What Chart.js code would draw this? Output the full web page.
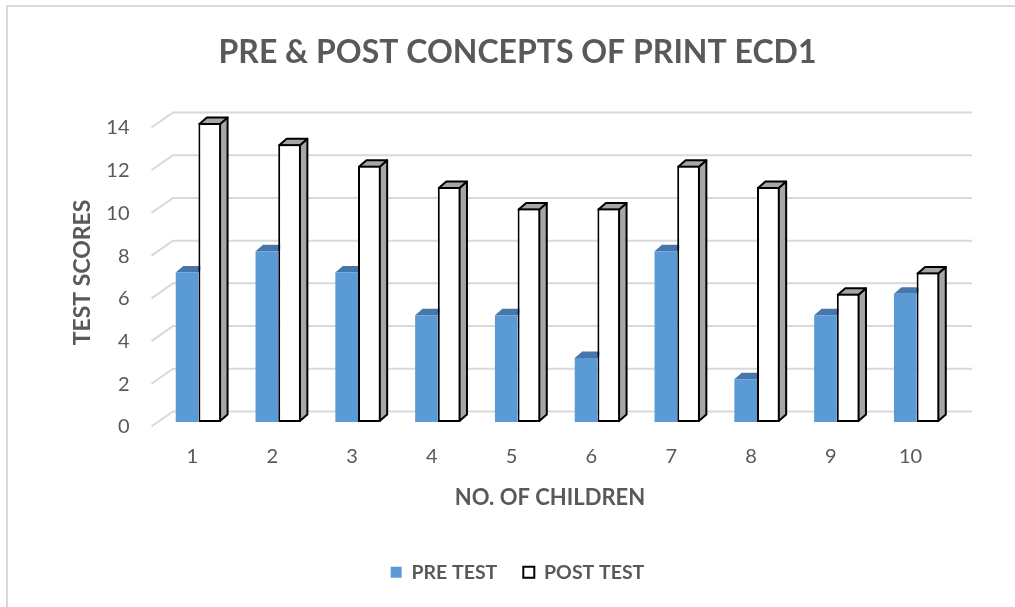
<!DOCTYPE html>
<html>
<head>
<meta charset="utf-8">
<script src="https://cdn.jsdelivr.net/npm/chart.js@4.4.1/dist/chart.umd.min.js"></script>
<style>
  html, body { margin: 0; padding: 0; background: #ffffff; }
  #wrap { position: relative; width: 1015px; height: 607px; overflow: hidden; }
  #frame { position: absolute; left: 6px; top: 5px; width: 1100px; height: 700px;
           border-top: 2px solid #d9d9d9; border-left: 2px solid #d9d9d9; }
  canvas { position: absolute; left: 0; top: 0; }
</style>
</head>
<body>
<div id="wrap">
  <div id="frame"></div>
  <canvas id="c" width="1015" height="607"></canvas>
</div>
<script>
// ---- data ----
const categories = ['1', '2', '3', '4', '5', '6', '7', '8', '9', '10'];
const preTest = [7, 8, 7, 5, 5, 3, 8, 2, 5, 6];
const postTest = [14, 13, 12, 11, 10, 10, 12, 11, 6, 7];
const seriesNames = ['PRE TEST', 'POST TEST'];
const chartTitle = 'PRE & POST CONCEPTS OF PRINT ECD1';
const xTitle = 'NO. OF CHILDREN';
const yTitle = 'TEST SCORES';

const TEXT = '#595959';
const FONT = 'Lato, "Open Sans", sans-serif';

// 3D effect plugin: back-wall grid + top/side faces of bars, x-axis title
const DEPTH_X = 7.5, DEPTH_Y = -6.5;
const threeD = {
  id: 'threeD',
  beforeDatasetsDraw(chart) {
    const ctx = chart.ctx;
    const area = chart.chartArea;
    const ys = chart.scales.y;
    ctx.save();
    // grid
    ctx.strokeStyle = '#d9d9d9';
    ctx.lineWidth = 2;
    ys.ticks.forEach(t => {
      const yf = ys.getPixelForValue(t.value);
      ctx.beginPath();
      ctx.moveTo(area.left - 7, yf + 4.5);
      ctx.lineTo(area.left + 14.5, yf - 10.5);
      ctx.lineTo(area.right + 15.5, yf - 10.5);
      ctx.stroke();
    });
    // bar faces
    chart.data.datasets.forEach((ds, di) => {
      const meta = chart.getDatasetMeta(di);
      meta.data.forEach(el => {
        const p = el.getProps(['x', 'y', 'width', 'base'], true);
        const L = p.x - p.width / 2, R = p.x + p.width / 2;
        const top = Math.min(p.y, p.base), bot = Math.max(p.y, p.base);
        if (di === 0) {
          ctx.fillStyle = '#4676aa';
          ctx.beginPath();
          ctx.moveTo(L, top);
          ctx.lineTo(L + DEPTH_X, top + DEPTH_Y);
          ctx.lineTo(R + DEPTH_X, top + DEPTH_Y);
          ctx.lineTo(R, top);
          ctx.closePath();
          ctx.fill();
        } else {
          const l = L + 1, r = R - 1, t = top + 1, b = bot - 1;
          ctx.fillStyle = '#a6a6a6';
          ctx.strokeStyle = '#000000';
          ctx.lineWidth = 2;
          ctx.lineJoin = 'round';
          ctx.beginPath();
          ctx.moveTo(r, t);
          ctx.lineTo(r + DEPTH_X, t + DEPTH_Y);
          ctx.lineTo(r + DEPTH_X, b + DEPTH_Y);
          ctx.lineTo(r, b);
          ctx.closePath();
          ctx.fill();
          ctx.stroke();
          ctx.beginPath();
          ctx.moveTo(l, t);
          ctx.lineTo(l + DEPTH_X, t + DEPTH_Y);
          ctx.lineTo(r + DEPTH_X, t + DEPTH_Y);
          ctx.lineTo(r, t);
          ctx.closePath();
          ctx.fill();
          ctx.stroke();
        }
      });
    });
    ctx.restore();
  },
  afterDraw(chart) {
    // x-axis title, centred on the 3D plot (slightly left of the front plane centre)
    const ctx = chart.ctx;
    const area = chart.chartArea;
    ctx.save();
    ctx.fillStyle = TEXT;
    ctx.font = 'bold 22px ' + FONT;
    ctx.textAlign = 'center';
    ctx.textBaseline = 'middle';
    ctx.fillText(xTitle, (area.left + area.right) / 2 - 7.5, area.bottom + 75.5);
    ctx.restore();
  }
};

const AREA_TOP = 123, AREA_BOTTOM = 422, AREA_LEFT = 158.5, AREA_RIGHT = 956.5;
const PAD_LEFT = 20, PAD_BOTTOM = 15;
const TITLE_SIZE = 32, TITLE_PT = 33.8;

new Chart(document.getElementById('c'), {
  type: 'bar',
  data: {
    labels: categories,
    datasets: [
      {
        label: seriesNames[0],
        data: preTest,
        backgroundColor: '#5b9bd5',
        borderWidth: 0,
        categoryPercentage: 0.568,
        barPercentage: 1.0
      },
      {
        label: seriesNames[1],
        data: postTest,
        backgroundColor: '#ffffff',
        borderColor: '#000000',
        borderWidth: 2,
        borderSkipped: false,
        categoryPercentage: 0.568,
        barPercentage: 1.0
      }
    ]
  },
  options: {
    responsive: false,
    animation: false,
    devicePixelRatio: 1,
    layout: { padding: { left: PAD_LEFT, right: 0, top: 0, bottom: PAD_BOTTOM } },
    plugins: {
      tooltip: { enabled: false },
      title: {
        display: true,
        text: chartTitle,
        color: TEXT,
        font: { family: FONT, size: TITLE_SIZE, weight: 'bold', lineHeight: 1.2 },
        padding: { top: TITLE_PT, bottom: AREA_TOP - TITLE_PT - TITLE_SIZE * 1.2 }
      },
      legend: {
        position: 'bottom',
        labels: {
          color: TEXT,
          font: { family: FONT, size: 19.5, weight: 'bold' },
          boxWidth: 11,
          boxHeight: 11,
          padding: 26
        }
      }
    },
    scales: {
      x: {
        grid: { display: false, drawTicks: false },
        border: { display: false },
        ticks: { color: TEXT, font: { family: FONT, size: 20 }, padding: 23, labelOffset: -6 },
        title: { display: false },
        afterFit(scale) {
          const lg = scale.chart.legend ? scale.chart.legend.height : 50;
          scale.height = scale.chart.height - PAD_BOTTOM - lg - AREA_BOTTOM;
        }
      },
      y: {
        min: 0, max: 14,
        grid: { display: false, drawTicks: false },
        border: { display: false },
        ticks: { stepSize: 2, color: TEXT, font: { family: FONT, size: 20 }, padding: 29, labelOffset: 5 },
        title: {
          display: true, text: yTitle, color: TEXT,
          font: { family: FONT, size: 23, weight: 'bold', lineHeight: 1.2 },
          padding: { top: 49.2, bottom: 0 }
        },
        afterFit(scale) { scale.width = AREA_LEFT - PAD_LEFT; }
      },
      yR: {
        position: 'right',
        display: true,
        grid: { display: false, drawTicks: false },
        border: { display: false },
        ticks: { display: false },
        afterFit(scale) { scale.width = 1015 - AREA_RIGHT; }
      }
    }
  },
  plugins: [threeD]
});
</script>
</body>
</html>
